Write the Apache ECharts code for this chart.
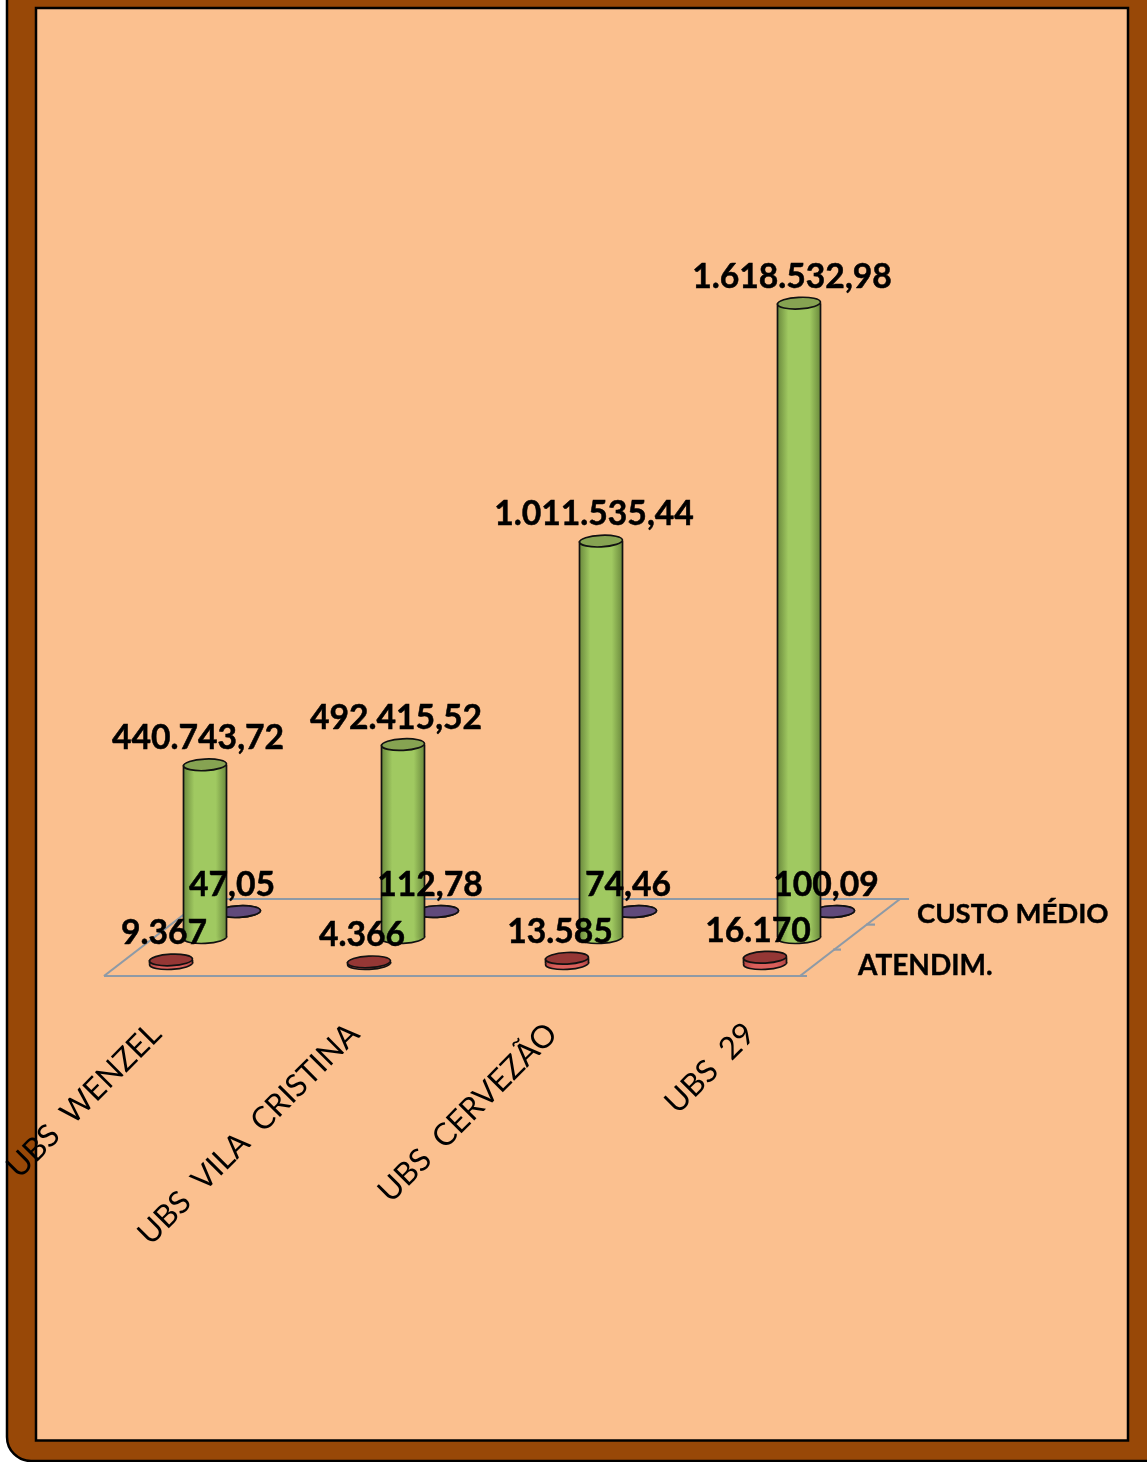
<!DOCTYPE html>
<html><head><meta charset="utf-8">
<style>html,body{margin:0;padding:0;background:#fff}#c{width:1147px;height:1462px}</style>
<script src="https://cdn.jsdelivr.net/npm/echarts@6/dist/echarts.min.js"></script>
</head><body><div id="c"></div>
<script>
const categories = ['UBS  WENZEL', 'UBS  VILA  CRISTINA', 'UBS  CERVEZÃO', 'UBS  29'];
const atendimentos = [9367, 4366, 13585, 16170];
const custoTotal = [440743.72, 492415.52, 1011535.44, 1618532.98];
const custoMedio = [47.05, 112.78, 74.46, 100.09];
const depthLabels = ['ATENDIM.', 'CUSTO MÉDIO'];

const FONT = 'Lato, "Open Sans", sans-serif';
const SHIFT = 15, DX = 34, DY = -26, RX = 21.5, RY = 5.8;

function fmt(v, d) {
  const p = v.toFixed(d).split('.');
  const s = p[0].replace(/\B(?=(\d{3})+$)/g, '.');
  return p[1] ? s + ',' + p[1] : s;
}
function grad(a, b) {
  return { type: 'linear', x: 0, y: 0, x2: 1, y2: 0, colorStops: [
    { offset: 0, color: a }, { offset: 0.25, color: b }, { offset: 0.5, color: b }, { offset: 0.75, color: b }, { offset: 1, color: a } ] };
}
function cylinder(row, side, sideMid, top) {
  return function (params, api) {
    const p0 = api.coord([api.value(0), 0]);
    const p1 = api.coord([api.value(0), api.value(1)]);
    const cx = p0[0] + SHIFT + row * DX, by = p0[1] + row * DY, ty = p1[1] + row * DY;
    const fill = grad(side, sideMid);
    const stroke = { stroke: '#111', lineWidth: 1.7 };
    return { type: 'group', children: [
      { type: 'ellipse', shape: { cx: cx, cy: by, rx: RX, ry: RY }, rotation: 0.05, originX: cx, originY: by,
        style: Object.assign({ fill: fill }, stroke) },
      { type: 'rect', shape: { x: cx - RX, y: ty, width: RX * 2, height: by - ty }, style: { fill: fill } },
      { type: 'line', shape: { x1: cx - RX, y1: ty, x2: cx - RX, y2: by }, style: stroke },
      { type: 'line', shape: { x1: cx + RX, y1: ty, x2: cx + RX, y2: by }, style: stroke },
      { type: 'ellipse', shape: { cx: cx, cy: ty, rx: RX, ry: RY }, rotation: 0.05, originX: cx, originY: ty,
        style: Object.assign({ fill: top }, stroke) }
    ] };
  };
}
function valueLabel(row, decimals) {
  return function (params, api) {
    const p0 = api.coord([api.value(0), 0]);
    const p1 = api.coord([api.value(0), api.value(1)]);
    return { type: 'text', x: p0[0] + SHIFT + row * DX - 7, y: p1[1] + row * DY - 26.5,
      style: { text: fmt(api.value(1), decimals), fill: '#000', stroke: '#000', lineWidth: 0.5,
        font: 'bold 33.7px ' + FONT, align: 'center', verticalAlign: 'middle' } };
  };
}
function floor(params, api) {
  const o = api.coord([0, 0]);
  const fx = x => o[0] + SHIFT + x, fy = y => o[1] + y;
  const s = { stroke: '#8E9AA6', lineWidth: 2.2, fill: null };
  const ln = (a, b, c, d) => ({ type: 'line', shape: { x1: fx(a), y1: fy(b), x2: fx(c), y2: fy(d) }, style: s });
  return { type: 'group', children: [
    ln(-67, 12.4, 636, 12.4), ln(33, -64.6, 738, -64.6),
    ln(-67, 12.4, 33, -64.6), ln(629, 12.4, 729, -64.6),
    ln(662, -14, 670, -14), ln(695, -39, 704, -39),
    { type: 'text', x: fx(687), y: fy(2.5), style: { text: depthLabels[0], fill: '#000', stroke: '#000', lineWidth: 0.4, font: 'bold 28px ' + FONT, verticalAlign: 'middle' } },
    { type: 'text', x: fx(746), y: fy(-49), style: { text: depthLabels[1], fill: '#000', stroke: '#000', lineWidth: 0.4, font: 'bold 27.5px ' + FONT, verticalAlign: 'middle' } }
  ] };
}
const idx = categories.map((c, i) => i);
const medioData = idx.map(i => [i, custoMedio[i]]);
const totalData = idx.map(i => [i, custoTotal[i]]);
const atendData = idx.map(i => [i, atendimentos[i]]);
const option = {
  animation: false,
  backgroundColor: '#fff',
  graphic: [
    { type: 'rect', z: -10, shape: { x: 7, y: -40, width: 1180, height: 1501, r: 24 }, style: { fill: '#984807', stroke: '#000', lineWidth: 2.5 } },
    { type: 'rect', z: -9, shape: { x: 36, y: 8, width: 1092, height: 1432.5 }, style: { fill: '#FBC08F', stroke: '#000', lineWidth: 2.5 } }
  ],
  grid: { left: 57, width: 792, top: 179.6, height: 784, outerBoundsMode: 'none' },
  xAxis: { type: 'category', data: categories, boundaryGap: true,
    axisLine: { show: false }, axisTick: { show: false },
    axisLabel: { interval: 0, rotate: 45, margin: 65, color: '#000', fontSize: 31.3, fontFamily: FONT, hideOverlap: false } },
  yAxis: { type: 'value', min: 0, max: 2000000, show: false },
  series: [
    { type: 'custom', name: 'Piso', z: 1, data: [[0, 0]], renderItem: floor, silent: true },
    { type: 'custom', name: 'CUSTO MÉDIO', z: 2, data: medioData, renderItem: cylinder(2, '#4E3B66', '#6A5189', '#604A7B') },
    { type: 'custom', name: 'CUSTO TOTAL', z: 3, data: totalData, renderItem: cylinder(1, '#6B8A3D', '#A0C961', '#86A352') },
    { type: 'custom', name: 'ATENDIM.', z: 4, data: atendData, renderItem: cylinder(0, '#B04542', '#DB5F5B', '#953735') },
    { type: 'custom', name: 'rót. CUSTO MÉDIO', z: 10, data: medioData, renderItem: valueLabel(2, 2), silent: true },
    { type: 'custom', name: 'rót. CUSTO TOTAL', z: 10, data: totalData, renderItem: valueLabel(1, 2), silent: true },
    { type: 'custom', name: 'rót. ATENDIM.', z: 10, data: atendData, renderItem: valueLabel(0, 0), silent: true }
  ]
};
echarts.init(document.getElementById('c'), null, { renderer: 'canvas' }).setOption(option);
</script></body></html>
